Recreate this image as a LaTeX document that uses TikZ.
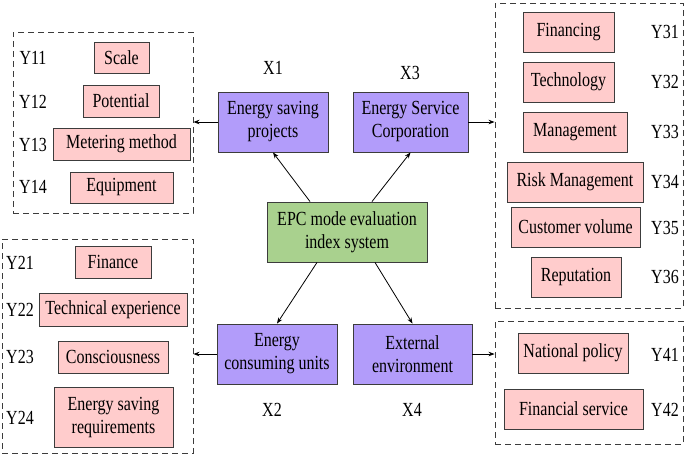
\documentclass[tikz,border=0pt]{standalone}
\usepackage{fontspec}
\setmainfont[FakeStretch=0.8]{Liberation Serif}
\usetikzlibrary{arrows.meta,calc}
\definecolor{purp}{RGB}{178,156,250}
\definecolor{pinkb}{RGB}{255,204,204}
\definecolor{greenb}{RGB}{169,209,142}
\definecolor{edge}{RGB}{60,60,60}
\tikzset{
  x=1pt, y=-1pt,
  every node/.style={font=\fontsize{20}{23}\selectfont, inner sep=0pt},
  ybox/.style={draw=edge, line width=0.9pt, fill=pinkb, align=center},
  xbox/.style={draw=edge, line width=0.9pt, fill=purp, align=center, minimum height=60pt},
  ebox/.style={draw=edge, line width=0.9pt, fill=greenb, align=center},
  grp/.style={draw=edge, line width=0.9pt, dash pattern=on 6pt off 4pt},
  arr/.style={line width=0.8pt, -{Stealth[length=6pt,width=4.5pt]}},
}
\begin{document}
\begin{tikzpicture}
\useasboundingbox (0,0) rectangle (685,456);
% groups
\node[grp, minimum width=180pt, minimum height=181pt] (g1) at (103,122.5) {};
\node[grp, minimum width=191pt, minimum height=214pt] (g2) at (97.5,346) {};
\node[grp, minimum width=188pt, minimum height=305pt] (g3) at (589,155.5) {};
\node[grp, minimum width=188pt, minimum height=123pt] (g4) at (589,382.5) {};
% group 1
\node[ybox, minimum width=55pt, minimum height=31pt] (y11) at (121.5,57.5) {Scale};
\node[ybox, minimum width=76pt, minimum height=32pt] (y12) at (121,101) {Potential};
\node[ybox, minimum width=137pt, minimum height=32pt] (y13) at (121.5,144) {Metering method};
\node[ybox, minimum width=103pt, minimum height=31pt] (y14) at (121.5,187.5) {Equipment};
\node (ly11) at (33,58) {Y11};
\node (ly12) at (33,102) {Y12};
\node (ly13) at (33,145) {Y13};
\node (ly14) at (33,187) {Y14};
% group 2
\node[ybox, minimum width=76pt, minimum height=32pt] (y21) at (113,262) {Finance};
\node[ybox, minimum width=148pt, minimum height=33pt] (y22) at (113,309.5) {Technical experience};
\node[ybox, minimum width=110pt, minimum height=32pt] (y23) at (113,357) {Consciousness};
\node[ybox, minimum width=119pt, minimum height=60pt] (y24) at (113.5,417) {Energy saving\\requirements};
\node (ly21) at (20,263) {Y21};
\node (ly22) at (20,310) {Y22};
\node (ly23) at (20,357) {Y23};
\node (ly24) at (20,418) {Y24};
% group 3
\node[ybox, minimum width=91pt, minimum height=40pt] (y31) at (568.5,32) {Financing};
\node[ybox, minimum width=91pt, minimum height=40pt] (y32) at (568.5,82) {Technology};
\node[ybox, minimum width=104pt, minimum height=40pt] (y33) at (575,132) {Management};
\node[ybox, minimum width=136pt, minimum height=40pt] (y34) at (575,182) {Risk Management};
\node[ybox, minimum width=129pt, minimum height=40pt] (y35) at (575.5,227) {Customer volume};
\node[ybox, minimum width=90pt, minimum height=40pt] (y36) at (576,277) {Reputation};
\node (ly31) at (665,32) {Y31};
\node (ly32) at (665,82) {Y32};
\node (ly33) at (665,132) {Y33};
\node (ly34) at (665,182) {Y34};
\node (ly35) at (665,228) {Y35};
\node (ly36) at (665,277) {Y36};
% group 4
\node[ybox, minimum width=110pt, minimum height=40pt] (y41) at (573,353) {National policy};
\node[ybox, minimum width=139pt, minimum height=40pt] (y42) at (573.5,409) {Financial service};
\node (ly41) at (665,355) {Y41};
\node (ly42) at (665,410) {Y42};
% main
\node[xbox, minimum width=110pt] (x1) at (273,122) {Energy saving\\projects};
\node[xbox, minimum width=115pt] (x3) at (410.5,122) {Energy Service\\Corporation};
\node[xbox, minimum width=120pt] (x2) at (277,354) {Energy\\consuming units};
\node[xbox, minimum width=119pt] (x4) at (412.5,354) {External\\environment};
\node[ebox, minimum width=160pt, minimum height=60pt] (epc) at (347,232) {EPC mode evaluation\\index system};
\node (lx1) at (273,68) {X1};
\node (lx3) at (410,73) {X3};
\node (lx2) at (272,410) {X2};
\node (lx4) at (412,410) {X4};
% arrows
\draw[arr] ($(epc.north)+(-37,0)$) -- (x1.south);
\draw[arr] ($(epc.north)+(25,0)$) -- (x3.south);
\draw[arr] ($(epc.south)+(-30,0)$) -- (x2.north);
\draw[arr] ($(epc.south)+(28,0)$) -- (x4.north);
\draw[arr] (x1.west) -- (x1.west -| g1.east);
\draw[arr] (x2.west) -- (x2.west -| g2.east);
\draw[arr] (x3.east) -- (x3.east -| g3.west);
\draw[arr] (x4.east) -- (x4.east -| g4.west);
\end{tikzpicture}
\end{document}
